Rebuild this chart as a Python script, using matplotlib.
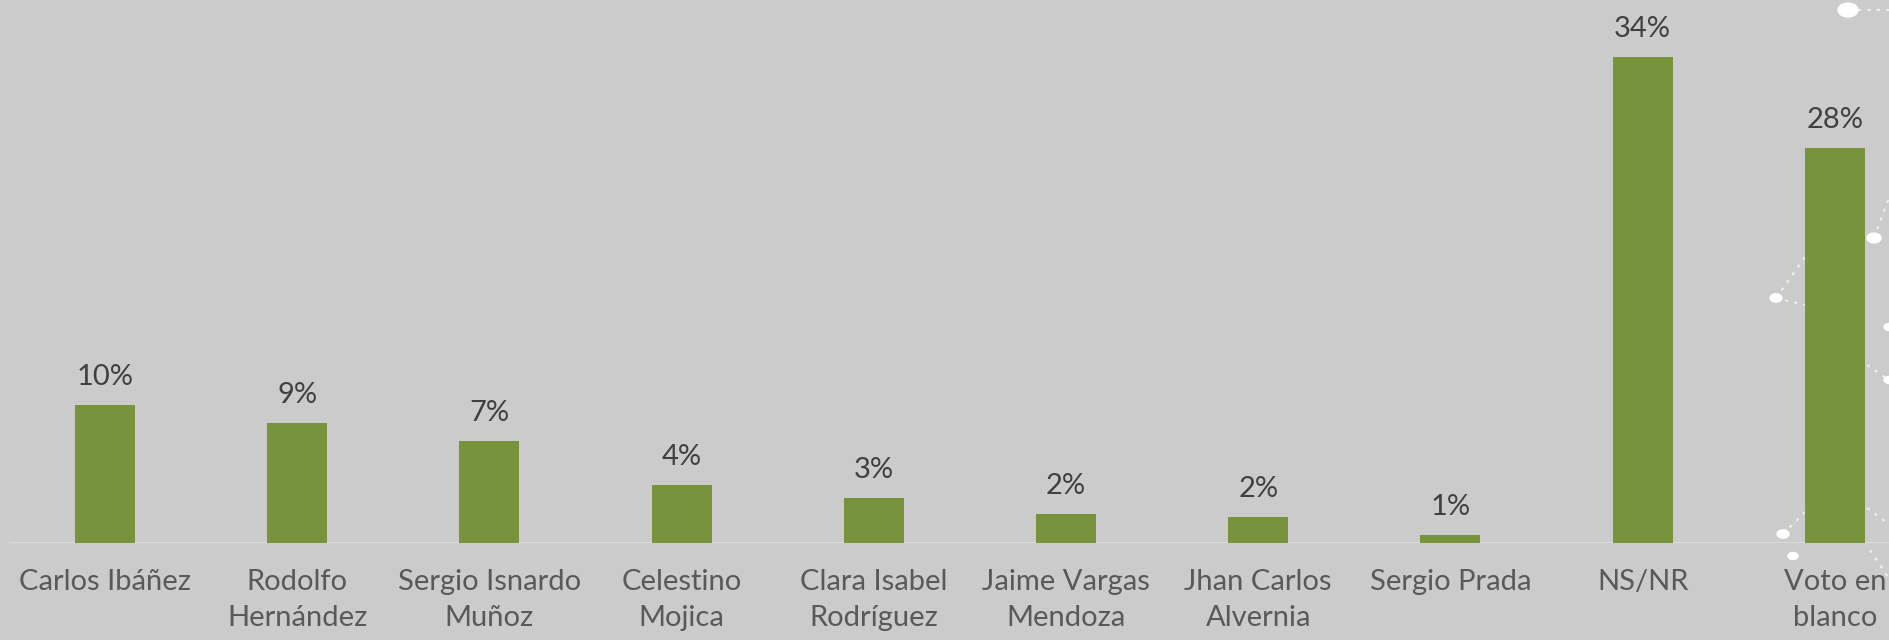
import matplotlib.pyplot as plt
import numpy as np
from matplotlib.patches import Ellipse

categories = ["Carlos Ibáñez", "Rodolfo\nHernández", "Sergio Isnardo\nMuñoz",
              "Celestino\nMojica", "Clara Isabel\nRodríguez", "Jaime Vargas\nMendoza",
              "Jhan Carlos\nAlvernia", "Sergio Prada", "NS/NR", "Voto en\nblanco"]
values = [9.65, 8.39, 7.13, 4.06, 3.15, 2.03, 1.82, 0.56, 34.0, 27.6]
value_labels = ["10%", "9%", "7%", "4%", "3%", "2%", "2%", "1%", "34%", "28%"]

# white dots of the background pattern (figure pixels, from top-left)
deco_dots = [(1848, 10, 20), (1776, 298, 12), (1874, 238, 14), (1889, 327, 10),
             (1889, 380, 10), (1783, 534, 12), (1793, 556, 10)]
deco_links = [(1858, 10, 1890, 10), (1776, 298, 1805, 257), (1776, 298, 1805, 305),
              (1874, 238, 1890, 195), (1867, 365, 1889, 380), (1783, 534, 1805, 512),
              (1867, 508, 1890, 525), (1870, 550, 1890, 580)]

bg = "#cbcbcb"
plt.rcParams["font.family"] = ["Lato", "DejaVu Sans"]

fig = plt.figure(figsize=(18.9, 6.4), dpi=100, facecolor=bg)

# background decoration
deco = fig.add_axes([0, 0, 1, 1], facecolor=bg)
deco.set_xlim(0, 1890)
deco.set_ylim(640, 0)
deco.axis("off")
for x0, y0, x1, y1 in deco_links:
    deco.plot([x0, x1], [y0, y1], color="white", lw=1.5, ls=(0, (1.5, 3)), alpha=0.7)
for x, y, s in deco_dots:
    deco.add_patch(Ellipse((x, y), s, s * 0.7, color="white"))

ax = fig.add_axes([0, 97 / 640, 1, 543 / 640])
ax.patch.set_alpha(0)
x = np.arange(len(categories))
ax.bar(x, values, width=0.312, color="#77933c", zorder=3)
ax.set_xlim(-105 / 192.2, (1890 - 105) / 192.2)
ax.set_ylim(0, 543 / 14.3)
ax.hlines(0, -0.5, 10, color="#dedede", lw=2, zorder=2)

for xi, v, lab in zip(x, values, value_labels):
    ax.annotate(lab, (xi, v), xytext=(0, 11), textcoords="offset points",
                ha="center", va="bottom", fontsize=21, color="#404040")

for s in ax.spines.values():
    s.set_visible(False)
ax.set_yticks([])
ax.set_xticks(x)
ax.set_xticklabels(categories, fontsize=21, color="#595959", linespacing=1.45)
ax.tick_params(axis="x", length=0, pad=19)

fig.savefig("out.png", dpi=100, facecolor=bg)
